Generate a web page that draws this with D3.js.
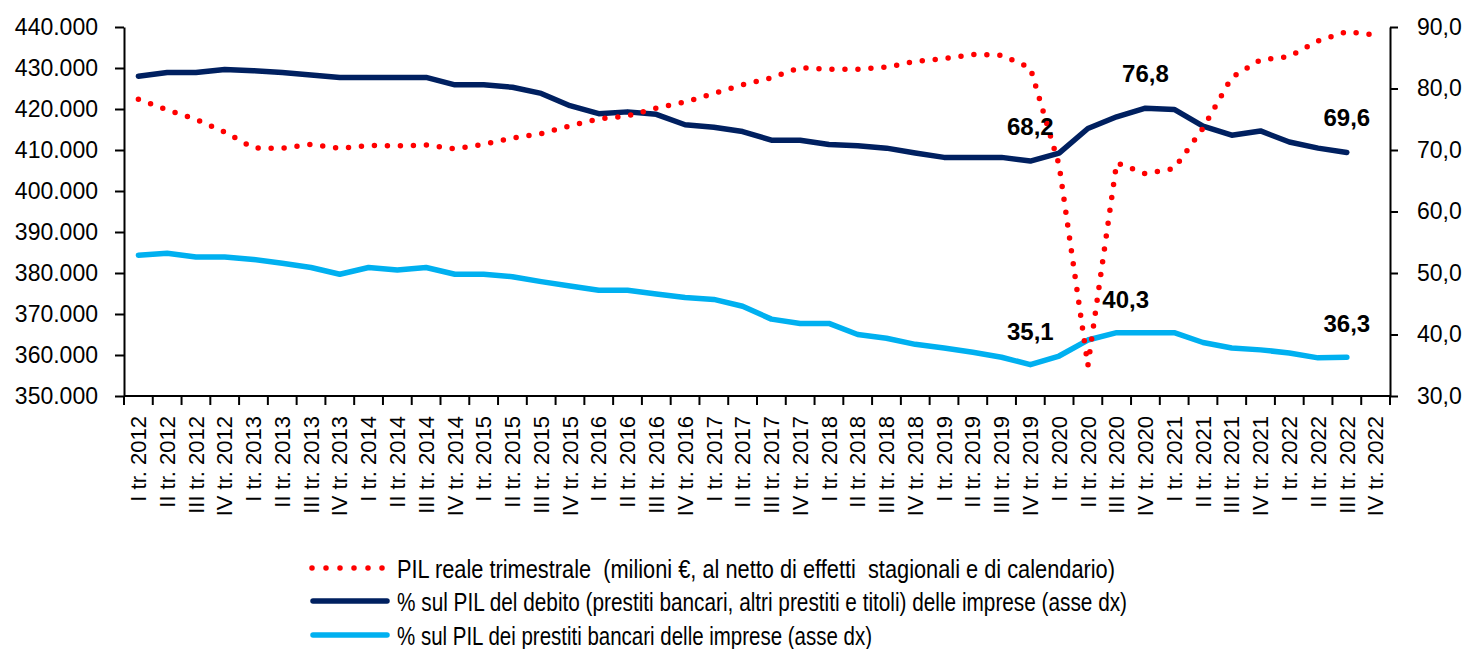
<!DOCTYPE html>
<html>
<head>
<meta charset="utf-8">
<script src="https://cdnjs.cloudflare.com/ajax/libs/d3/7.8.4/d3.min.js"></script>
<style>
  body { margin: 0; background: #fff; }
  svg { display: block; font-family: "Liberation Sans", Arial, sans-serif; }
  .axis path, .axis line { stroke: #000; stroke-width: 2; }
  .axis text { fill: #000; }
</style>
</head>
<body>
<div id="chart"></div>
<script>
// quarters on the x axis
const quarters = [
  "I tr. 2012", "II tr. 2012", "III tr. 2012", "IV tr. 2012",
  "I tr. 2013", "II tr. 2013", "III tr. 2013", "IV tr. 2013",
  "I tr. 2014", "II tr. 2014", "III tr. 2014", "IV tr. 2014",
  "I tr. 2015", "II tr. 2015", "III tr. 2015", "IV tr. 2015",
  "I tr. 2016", "II tr. 2016", "III tr. 2016", "IV tr. 2016",
  "I tr. 2017", "II tr. 2017", "III tr. 2017", "IV tr. 2017",
  "I tr. 2018", "II tr. 2018", "III tr. 2018", "IV tr. 2018",
  "I tr. 2019", "II tr. 2019", "III tr. 2019", "IV tr. 2019",
  "I tr. 2020", "II tr. 2020", "III tr. 2020", "IV tr. 2020",
  "I tr. 2021", "II tr. 2021", "III tr. 2021", "IV tr. 2021",
  "I tr. 2022", "II tr. 2022", "III tr. 2022", "IV tr. 2022"
];

// PIL reale trimestrale, milioni di euro (asse sx)
const pil = [
  422400, 419800, 417500, 414400, 410500, 410400, 411400, 410400,
  411100, 411000, 411200, 410300, 411400, 412900, 414000, 415900,
  417600, 418300, 420200, 421700, 423800, 425900, 427600, 430100,
  429700, 429700, 430200, 431600, 432300, 433300, 433100, 430000,
  406300, 357400, 406900, 404200, 405500, 415300, 427700, 432000,
  432800, 436600, 438900, 438000
];

// % sul PIL del debito delle imprese (asse dx)
const debito = [
  82.0, 82.6, 82.6, 83.1, 82.9, 82.6, 82.2, 81.8,
  81.8, 81.8, 81.8, 80.6, 80.6, 80.2, 79.2, 77.2,
  75.9, 76.2, 75.8, 74.1, 73.7, 73.0, 71.6, 71.6,
  70.9, 70.7, 70.3, 69.5, 68.8, 68.8, 68.8, 68.2,
  69.5, 73.5, 75.4, 76.8, 76.6, 73.9, 72.4, 73.1,
  71.3, 70.3, 69.6
];

// % sul PIL dei prestiti bancari delle imprese (asse dx)
const prestiti = [
  52.9, 53.2, 52.6, 52.6, 52.2, 51.6, 50.9, 49.8,
  50.9, 50.5, 50.9, 49.8, 49.8, 49.4, 48.6, 47.9,
  47.2, 47.2, 46.6, 46.0, 45.7, 44.6, 42.5, 41.8,
  41.8, 40.0, 39.4, 38.4, 37.8, 37.1, 36.3, 35.1,
  36.5, 39.1, 40.3, 40.3, 40.3, 38.7, 37.8, 37.5,
  37.0, 36.2, 36.3
];

const leftTicks = [350000, 360000, 370000, 380000, 390000, 400000, 410000, 420000, 430000, 440000];
const rightTicks = [30, 40, 50, 60, 70, 80, 90];

// data labels: quarter index, text
const debitoLabels = [[31, "68,2"], [35, "76,8"], [42, "69,6"]];
const prestitiLabels = [[31, "35,1"], [34, "40,3"], [42, "36,3"]];

const legendItems = [
  "PIL reale trimestrale  (milioni €, al netto di effetti  stagionali e di calendario)",
  "% sul PIL del debito (prestiti bancari, altri prestiti e titoli) delle imprese (asse dx)",
  "% sul PIL dei prestiti bancari delle imprese (asse dx)"
];

const W = 1463, H = 649;
const mLeft = 124, mRight = 1390, mTop = 27, mBottom = 396;
const RED = "#ff0000", NAVY = "#002060", SKY = "#00b0f0";

const it = d3.formatLocale({decimal: ",", thousands: ".", grouping: [3], currency: ["€", ""]});

const svg = d3.select("#chart").append("svg")
  .attr("width", W).attr("height", H);

const x = d3.scaleBand().domain(quarters).range([mLeft, mRight]).padding(0);
const cx = i => x(quarters[i]) + x.bandwidth() / 2;
const yL = d3.scaleLinear().domain([350000, 440000]).range([mBottom, mTop]);
const yR = d3.scaleLinear().domain([30, 90]).range([mBottom, mTop]);

// left axis
svg.append("g").attr("class", "axis")
  .attr("transform", `translate(${mLeft},0)`)
  .call(d3.axisLeft(yL).tickValues(leftTicks).tickSize(9).tickSizeOuter(0).tickPadding(17)
    .tickFormat(it.format(",.0f")))
  .call(g => g.selectAll("text").style("font-size", "23px"));

// right axis
svg.append("g").attr("class", "axis")
  .attr("transform", `translate(${mRight},0)`)
  .call(d3.axisRight(yR).tickValues(rightTicks).tickSize(8).tickSizeOuter(0).tickPadding(19)
    .tickFormat(it.format(".1f")))
  .call(g => g.selectAll("text").style("font-size", "23px"));

// bottom axis: ticks between quarters, labels rotated
const xAxis = svg.append("g").attr("class", "axis");
xAxis.append("line")
  .attr("x1", mLeft).attr("x2", mRight).attr("y1", mBottom).attr("y2", mBottom);
xAxis.selectAll("line.tk")
  .data(quarters.concat(["end"]))
  .join("line").attr("class", "tk")
  .attr("x1", (d, i) => i < quarters.length ? x(d) : mRight)
  .attr("x2", (d, i) => i < quarters.length ? x(d) : mRight)
  .attr("y1", mBottom).attr("y2", mBottom + 9);
xAxis.selectAll("text")
  .data(quarters)
  .join("text")
  .attr("transform", (d, i) => `translate(${cx(i)},${mBottom + 20}) rotate(-90)`)
  .attr("text-anchor", "end")
  .attr("dy", "0.35em")
  .style("font-size", "22px")
  .text(d => d);

// lines
const lineL = d3.line().x((d, i) => cx(i)).y(d => yL(d));
const lineR = d3.line().x((d, i) => cx(i)).y(d => yR(d));

svg.append("path").datum(prestiti)
  .attr("d", lineR).attr("fill", "none")
  .attr("stroke", SKY).attr("stroke-width", 5.5)
  .attr("stroke-linejoin", "round").attr("stroke-linecap", "round");

svg.append("path").datum(debito)
  .attr("d", lineR).attr("fill", "none")
  .attr("stroke", NAVY).attr("stroke-width", 5.5)
  .attr("stroke-linejoin", "round").attr("stroke-linecap", "round");

svg.append("path").datum(pil)
  .attr("d", lineL).attr("fill", "none")
  .attr("stroke", RED).attr("stroke-width", 5.5)
  .attr("stroke-dasharray", "0 13").attr("stroke-linecap", "round");

// data labels
const lab = svg.append("g")
  .style("font-size", "24px").style("font-weight", "bold").attr("text-anchor", "middle");
lab.selectAll("text.d")
  .data(debitoLabels).join("text").attr("class", "d")
  .attr("x", d => cx(d[0]))
  .attr("y", d => yR(debito[d[0]]) - 26)
  .text(d => d[1]);
lab.selectAll("text.p")
  .data(prestitiLabels).join("text").attr("class", "p")
  .attr("x", d => cx(d[0]) + (d[0] === 34 ? 9 : 0))
  .attr("y", d => yR(prestiti[d[0]]) - 25)
  .text(d => d[1]);

// legend
const lg = svg.append("g");
const lgY = [568, 601, 635];
const lgW = [718, 730, 475];
lg.append("line").attr("x1", 312).attr("x2", 384).attr("y1", lgY[0]).attr("y2", lgY[0])
  .attr("stroke", RED).attr("stroke-width", 5.5)
  .attr("stroke-dasharray", "0 14").attr("stroke-linecap", "round");
lg.append("line").attr("x1", 313).attr("x2", 387).attr("y1", lgY[1]).attr("y2", lgY[1])
  .attr("stroke", NAVY).attr("stroke-width", 5.5).attr("stroke-linecap", "round");
lg.append("line").attr("x1", 313).attr("x2", 387).attr("y1", lgY[2]).attr("y2", lgY[2])
  .attr("stroke", SKY).attr("stroke-width", 5.5).attr("stroke-linecap", "round");
lg.selectAll("text")
  .data(legendItems).join("text")
  .attr("x", 397)
  .attr("y", (d, i) => lgY[i] + 10)
  .attr("textLength", (d, i) => lgW[i])
  .attr("lengthAdjust", "spacingAndGlyphs")
  .style("font-size", "25px")
  .style("white-space", "pre")
  .text(d => d);
</script>
</body>
</html>
